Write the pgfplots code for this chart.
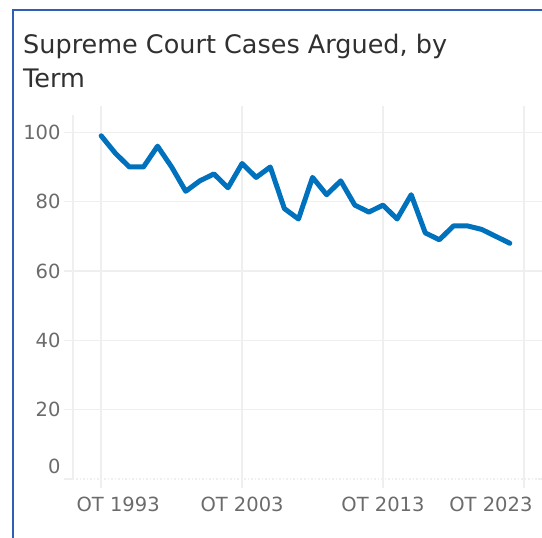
\documentclass[border=0pt]{standalone}
\usepackage{fontspec}
\setmainfont{DejaVu Sans}
\usepackage{pgfplots}
\pgfplotsset{compat=1.18}

\definecolor{framec}{HTML}{2F5FB4}
\definecolor{lineblue}{HTML}{0071BC}
\definecolor{gridc}{HTML}{EFEFEF}
\definecolor{ticktext}{HTML}{6B6B6B}
\definecolor{titletext}{HTML}{303030}

\begin{document}
\begin{tikzpicture}
\path[use as bounding box] (0,0) rectangle (542pt,538pt);
% frame on left and top
\draw[framec, line width=2pt] (12.5pt,0) -- (12.5pt,528pt) -- (542pt,528pt);
% title, two lines
\node[anchor=base west, inner sep=0, text=titletext, font=\fontsize{25.5}{30}\selectfont]
  at (23pt,484pt) {Supreme Court Cases Argued, by};
\node[anchor=base west, inner sep=0, text=titletext, font=\fontsize{25.5}{30}\selectfont]
  at (23pt,450pt) {Term};
\begin{axis}[
    at={(73pt,59pt)}, anchor=south west,
    scale only axis, width=465pt, height=364pt,
    xmin=1991, xmax=2024, ymin=0, ymax=105,
    axis line style={draw=none},
    xtick={1993,2003,2013,2023},
    xticklabels={{\hspace*{34pt}OT 1993},{OT 2003},{OT 2013},{OT 2023\hspace*{66pt}}},
    xticklabel style={yshift=-5pt},
    ytick={20,40,60,80,100},
    extra y ticks={0},
    extra y tick style={grid style={gridc, line width=1.5pt, dotted},
        yticklabel style={yshift=13pt}},
    extra x ticks={1991}, extra x tick labels={},
    extra x tick style={major tick length=0pt},
    grid=major, grid style={gridc, line width=1.5pt},
    tick align=outside, major tick length=9pt,
    tick style={gridc, line width=1.5pt},
    ticklabel style={font=\fontsize{19.5}{22}\selectfont, text=ticktext},
    /pgf/number format/assume math mode=true,
]
\addplot[lineblue, line width=5pt, line join=round, line cap=round] table {
1993 99
1994 94
1995 90
1996 90
1997 96
1998 90
1999 83
2000 86
2001 88
2002 84
2003 91
2004 87
2005 90
2006 78
2007 75
2008 87
2009 82
2010 86
2011 79
2012 77
2013 79
2014 75
2015 82
2016 71
2017 69
2018 73
2019 73
2020 72
2021 70
2022 68
};
\end{axis}
\end{tikzpicture}
\end{document}
